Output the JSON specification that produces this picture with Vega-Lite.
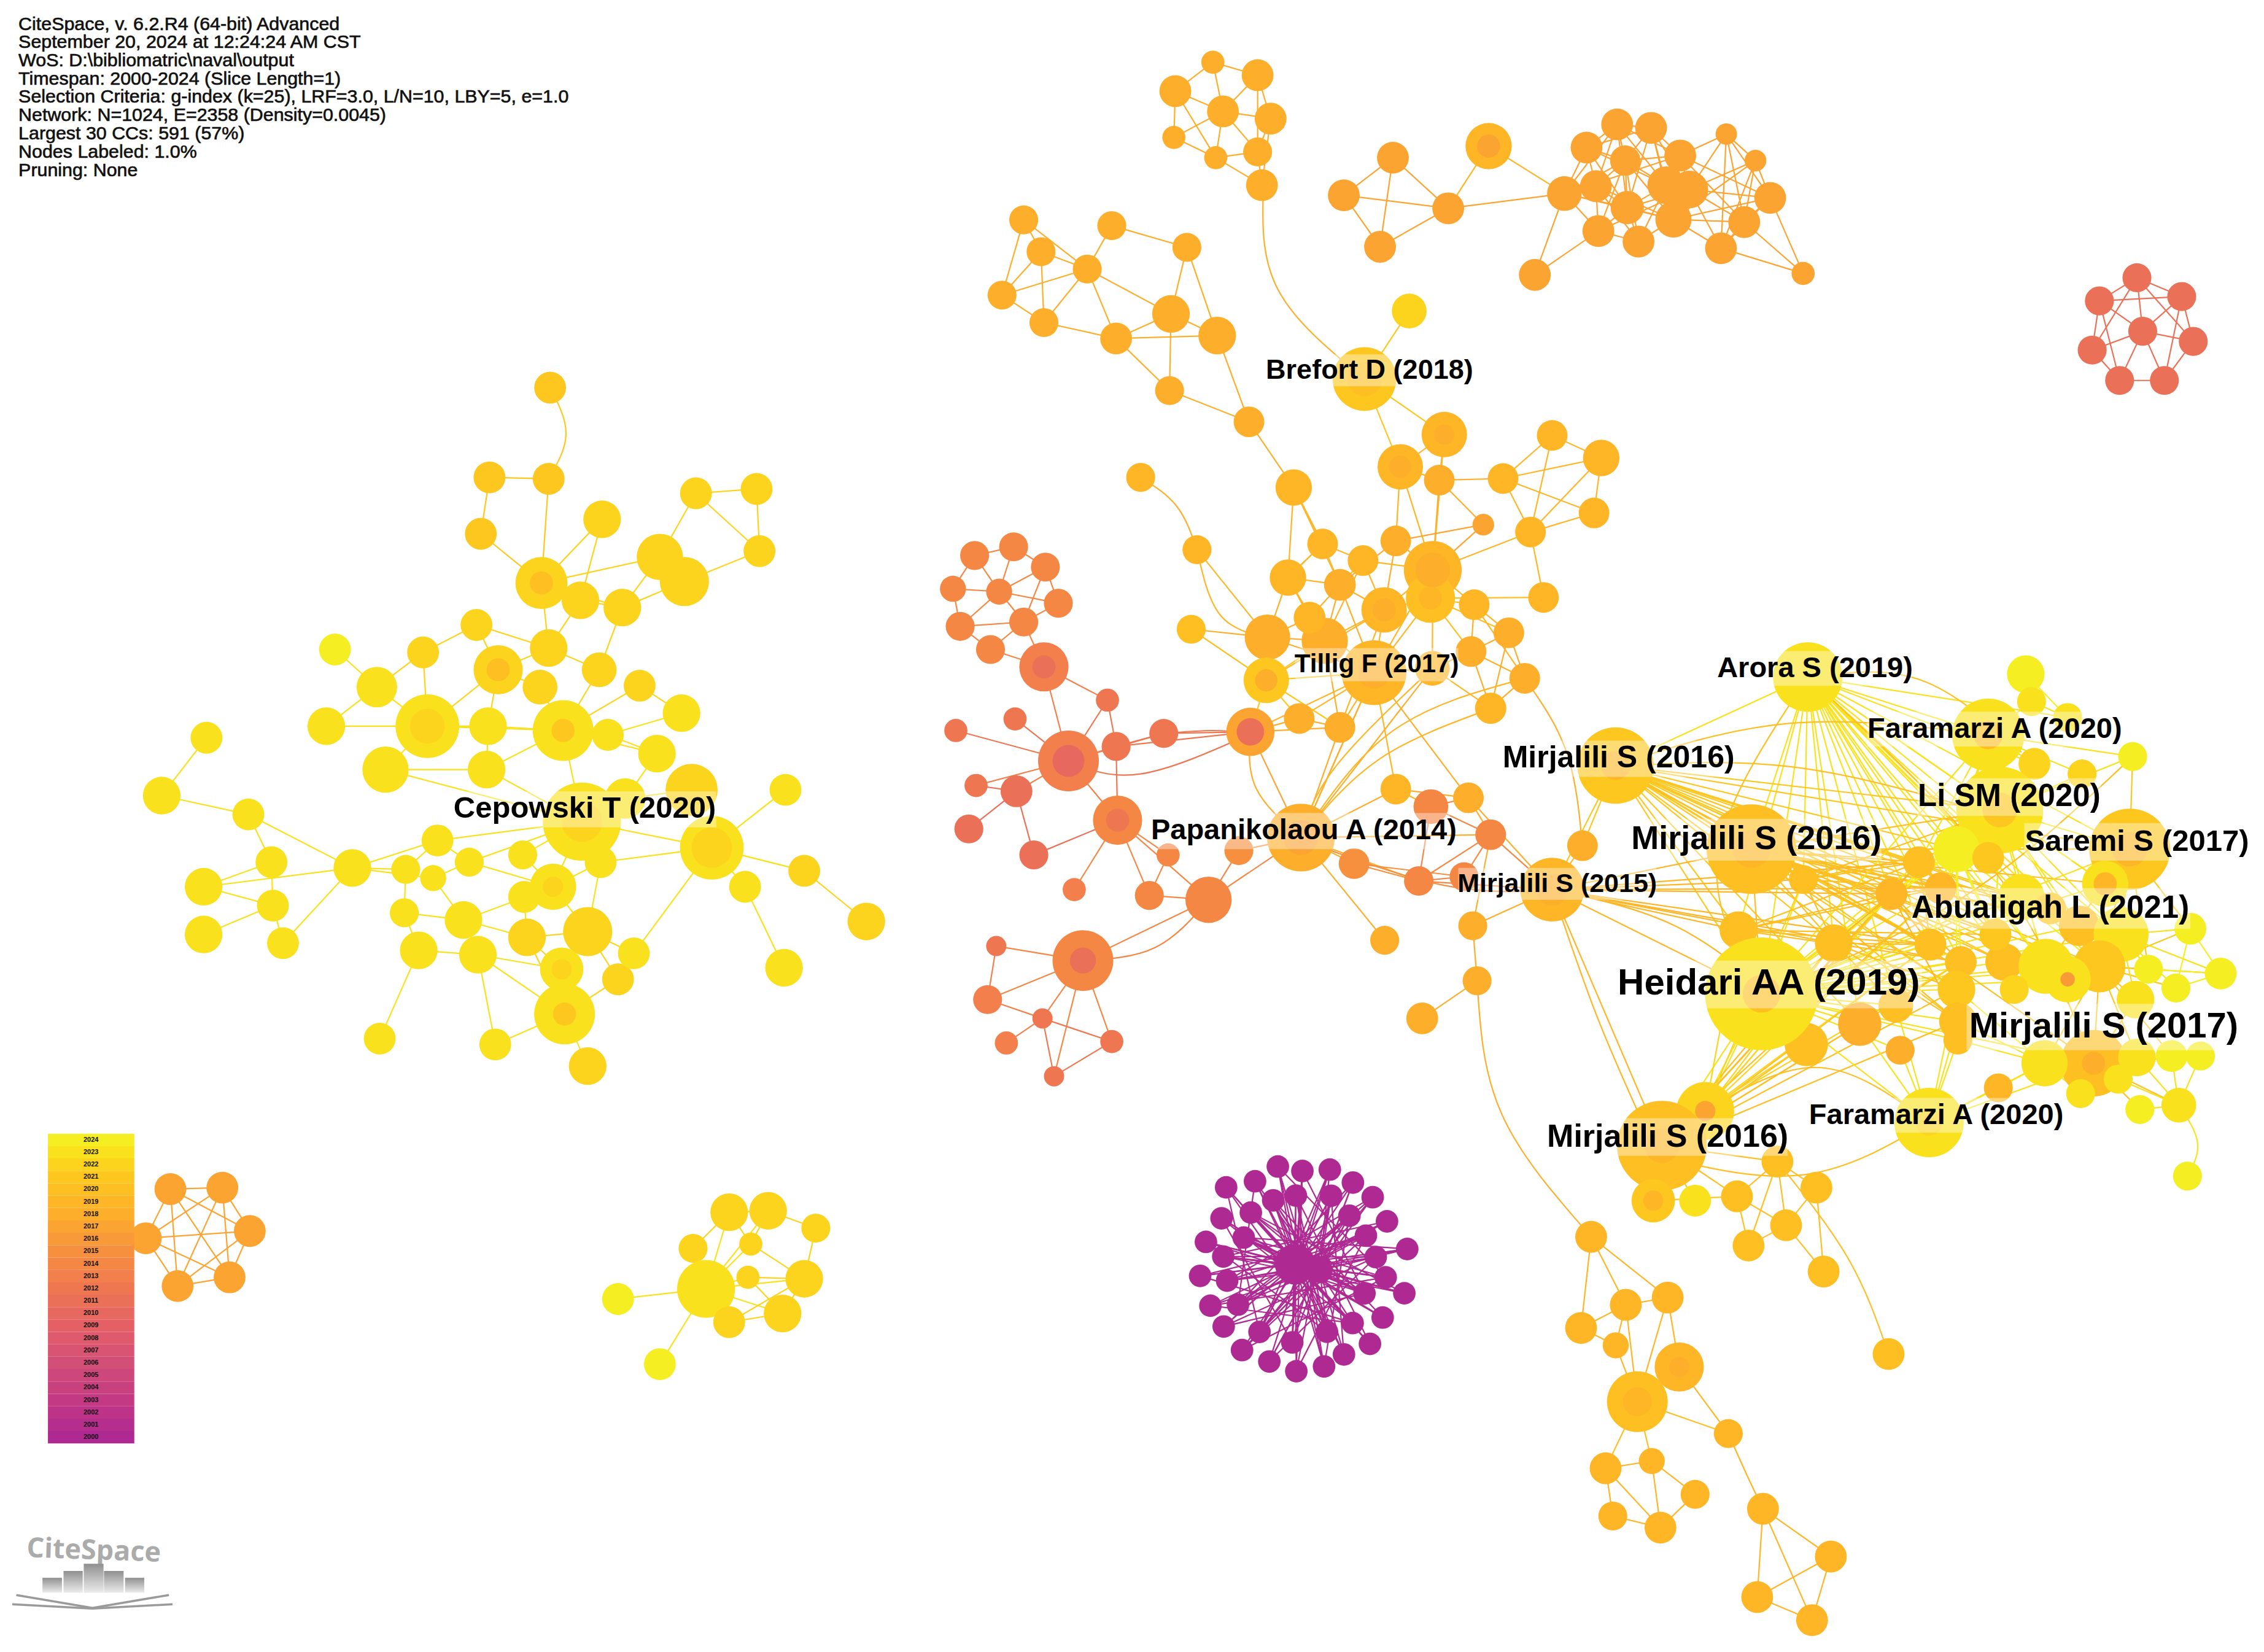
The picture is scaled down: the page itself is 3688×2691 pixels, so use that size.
{
"$schema":"https://vega.github.io/schema/vega-lite/v6.json",
"width":3688,"height":2691,"padding":0,
"autosize":{"type":"none"},
"background":"white",
"config":{"view":{"stroke":null}},
"resolve":{"scale":{"size":"independent"}},
"datasets":{
"nodes":[
{"id":"g1","x":101,"y":856,"r":11,"year":2017},{"id":"g2","x":118,"y":822,"r":11,"year":2017},{"id":"g3","x":154,"y":821,"r":11,"year":2017},{"id":"g4","x":173,"y":851,"r":11,"year":2017},{"id":"g5","x":159,"y":883,"r":11,"year":2017},{"id":"g6","x":123,"y":889,"r":11,"year":2017},
{"id":"h1","x":505,"y":838,"r":13,"year":2022},{"id":"h2","x":532,"y":837,"r":13,"year":2022},{"id":"h3","x":565,"y":849,"r":10,"year":2022},{"id":"h4","x":480,"y":863,"r":10,"year":2022},{"id":"h5","x":520,"y":860,"r":8,"year":2022},{"id":"h6","x":489,"y":891,"r":20,"year":2023},{"id":"h7","x":557,"y":884,"r":13,"year":2022},{"id":"h8","x":518,"y":883,"r":8,"year":2022},{"id":"h9","x":428,"y":898,"r":11,"year":2024},{"id":"h10","x":542,"y":908,"r":13,"year":2022},{"id":"h11","x":505,"y":914,"r":11,"year":2022},{"id":"h12","x":457,"y":943,"r":11,"year":2024},
{"id":"t1","x":1480,"y":192,"r":10,"year":2011},{"id":"t2","x":1454,"y":208,"r":10,"year":2011},{"id":"t3","x":1511,"y":205,"r":10,"year":2011},{"id":"t4","x":1484,"y":229,"r":10,"year":2011},{"id":"t5","x":1449,"y":242,"r":10,"year":2011},{"id":"t6","x":1519,"y":236,"r":10,"year":2011},{"id":"t7","x":1468,"y":263,"r":10,"year":2011},{"id":"t8","x":1499,"y":263,"r":10,"year":2011},
{"id":"a1","x":381,"y":268,"r":11,"year":2021},{"id":"a2","x":339,"y":330,"r":11,"year":2021},{"id":"a3","x":380,"y":331,"r":11,"year":2021},{"id":"a4","x":333,"y":369,"r":11,"year":2021},{"id":"a5","x":417,"y":359,"r":13,"year":2022},{"id":"a6","x":482,"y":341,"r":11,"year":2022},{"id":"a7","x":524,"y":338,"r":11,"year":2022},{"id":"a8","x":526,"y":381,"r":11,"year":2022},{"id":"a9","x":457,"y":385,"r":16,"year":2022},{"id":"a10","x":474,"y":402,"r":17,"year":2022},{"id":"a11","x":375,"y":403,"r":18,"year":2022,"cr":8,"cy":2020},{"id":"a12","x":402,"y":415,"r":13,"year":2022},{"id":"a13","x":431,"y":420,"r":13,"year":2022},{"id":"a14","x":330,"y":432,"r":11,"year":2022},{"id":"a15","x":293,"y":451,"r":11,"year":2022},{"id":"a16","x":380,"y":448,"r":13,"year":2022},{"id":"a17","x":415,"y":463,"r":12,"year":2022},{"id":"a18","x":345,"y":463,"r":17,"year":2022,"cr":8,"cy":2020},{"id":"a19","x":261,"y":475,"r":14,"year":2023},{"id":"a20","x":232,"y":449,"r":11,"year":2024},{"id":"a21","x":374,"y":475,"r":12,"year":2022},{"id":"a22","x":443,"y":474,"r":11,"year":2022},{"id":"a23","x":472,"y":493,"r":13,"year":2023},{"id":"a24","x":226,"y":502,"r":13,"year":2023},{"id":"a25","x":296,"y":502,"r":22,"year":2023,"cr":12,"cy":2022},{"id":"a26","x":338,"y":502,"r":13,"year":2023},{"id":"a27","x":390,"y":505,"r":21,"year":2023,"cr":8,"cy":2021},{"id":"a28","x":421,"y":508,"r":11,"year":2023},{"id":"a29","x":267,"y":532,"r":16,"year":2023},{"id":"a30","x":337,"y":532,"r":13,"year":2023},{"id":"a31","x":455,"y":521,"r":13,"year":2023},{"id":"a32","x":433,"y":552,"r":14,"year":2023},{"id":"a33","x":479,"y":546,"r":18,"year":2022},{"id":"a34","x":544,"y":546,"r":11,"year":2023},{"id":"a35","x":403,"y":568,"r":27,"year":2023,"cr":14,"cy":2022},{"id":"a36","x":493,"y":586,"r":22,"year":2023,"cr":14,"cy":2022},{"id":"a37","x":112,"y":550,"r":13,"year":2023},{"id":"a38","x":143,"y":510,"r":11,"year":2023},{"id":"a39","x":172,"y":563,"r":11,"year":2023},{"id":"a40","x":188,"y":596,"r":11,"year":2023},{"id":"a41","x":141,"y":613,"r":13,"year":2023},{"id":"a42","x":189,"y":626,"r":11,"year":2023},{"id":"a43","x":141,"y":646,"r":13,"year":2023},{"id":"a44","x":196,"y":652,"r":11,"year":2023},{"id":"a45","x":244,"y":600,"r":13,"year":2023},{"id":"a46","x":303,"y":581,"r":11,"year":2023},{"id":"a47","x":325,"y":596,"r":10,"year":2023},{"id":"a48","x":281,"y":601,"r":10,"year":2023},{"id":"a49","x":362,"y":591,"r":10,"year":2023},{"id":"a50","x":280,"y":631,"r":10,"year":2023},{"id":"a51","x":300,"y":607,"r":9,"year":2023},{"id":"a52","x":321,"y":636,"r":13,"year":2023},{"id":"a53","x":363,"y":620,"r":11,"year":2023},{"id":"a54","x":383,"y":613,"r":16,"year":2023,"cr":7,"cy":2022},{"id":"a55","x":416,"y":596,"r":11,"year":2023},{"id":"a56","x":290,"y":657,"r":13,"year":2023},{"id":"a57","x":331,"y":660,"r":13,"year":2023},{"id":"a58","x":365,"y":648,"r":13,"year":2022},{"id":"a59","x":407,"y":644,"r":17,"year":2022},{"id":"a60","x":389,"y":670,"r":15,"year":2023,"cr":7,"cy":2022},{"id":"a61","x":428,"y":677,"r":11,"year":2022},{"id":"a62","x":439,"y":659,"r":11,"year":2023},{"id":"a63","x":391,"y":701,"r":21,"year":2023,"cr":8,"cy":2021},{"id":"a64","x":407,"y":737,"r":13,"year":2022},{"id":"a65","x":343,"y":722,"r":11,"year":2023},{"id":"a66","x":263,"y":718,"r":11,"year":2023},{"id":"a67","x":557,"y":602,"r":11,"year":2022},{"id":"a68","x":516,"y":613,"r":11,"year":2023},{"id":"a69","x":600,"y":637,"r":13,"year":2022},{"id":"a70","x":543,"y":669,"r":13,"year":2023},
{"id":"b1","x":840,"y":43,"r":8,"year":2018},{"id":"b2","x":871,"y":52,"r":11,"year":2018},{"id":"b3","x":814,"y":63,"r":11,"year":2018},{"id":"b4","x":847,"y":77,"r":11,"year":2018},{"id":"b5","x":880,"y":82,"r":11,"year":2018},{"id":"b6","x":813,"y":95,"r":8,"year":2018},{"id":"b7","x":842,"y":109,"r":8,"year":2018},{"id":"b8","x":871,"y":105,"r":10,"year":2018},{"id":"b9","x":874,"y":128,"r":11,"year":2018},
{"id":"c1","x":1031,"y":101,"r":16,"year":2019,"cr":8,"cy":2017},{"id":"c2","x":964.7,"y":109,"r":11,"year":2017},{"id":"c3","x":930.7,"y":135,"r":11,"year":2017},{"id":"c4","x":1003,"y":144,"r":11,"year":2017},{"id":"c5","x":955.8,"y":170.6,"r":11,"year":2017},{"id":"c6","x":1120,"y":86,"r":11,"year":2017},{"id":"c7","x":1143.5,"y":88.4,"r":11,"year":2017},{"id":"c8","x":1098.8,"y":102,"r":11,"year":2017},{"id":"c9","x":1195.6,"y":92.7,"r":7.4,"year":2017},{"id":"c10","x":1125.6,"y":111,"r":10.5,"year":2017},{"id":"c12","x":1163.7,"y":107.5,"r":11,"year":2017},{"id":"c18","x":1215.8,"y":111,"r":7.5,"year":2017},{"id":"c13","x":1083.5,"y":133.8,"r":12,"year":2017},{"id":"c14","x":1105.3,"y":128.7,"r":11,"year":2017},{"id":"c16","x":1154,"y":128,"r":13,"year":2017},{"id":"c17","x":1170,"y":131,"r":13,"year":2017},{"id":"c15","x":1127,"y":143.5,"r":11.5,"year":2017},{"id":"c19","x":1226,"y":136.8,"r":11,"year":2017},{"id":"c20","x":1159,"y":151.7,"r":12.5,"year":2017},{"id":"c26","x":1208,"y":153.5,"r":11,"year":2017},{"id":"c22","x":1107,"y":159.7,"r":11,"year":2017},{"id":"c23","x":1134.8,"y":167,"r":11,"year":2017},{"id":"c25","x":1191.9,"y":171.6,"r":11,"year":2017},{"id":"c24","x":1063,"y":190,"r":11,"year":2017},{"id":"c27","x":1248.8,"y":189,"r":8,"year":2017},
{"id":"d1","x":709,"y":152,"r":10,"year":2018},{"id":"d2","x":770,"y":156,"r":10,"year":2018},{"id":"d3","x":721,"y":174,"r":10,"year":2018},{"id":"d4","x":753,"y":186,"r":10,"year":2018},{"id":"d5","x":822,"y":171,"r":10,"year":2018},{"id":"d6","x":694,"y":204,"r":10,"year":2018},{"id":"d7","x":723,"y":223,"r":10,"year":2018},{"id":"d8","x":811,"y":217,"r":13,"year":2018},{"id":"d9","x":773,"y":234,"r":11,"year":2018},{"id":"d10","x":843,"y":232,"r":13,"year":2018},{"id":"d11","x":810,"y":270,"r":10,"year":2018},{"id":"d12","x":865,"y":291.6,"r":10.6,"year":2018},{"id":"d13","x":976,"y":215,"r":12,"year":2022},{"id":"d14","x":945,"y":262,"r":22,"year":2021,"cr":12,"cy":2020},
{"id":"e1","x":1000.3,"y":300.4,"r":15.7,"year":2019,"cr":7,"cy":2018},{"id":"e2","x":969.8,"y":322.7,"r":15.7,"year":2019,"cr":7.7,"cy":2018},{"id":"e3","x":996.8,"y":331.9,"r":10.6,"year":2018},{"id":"e4","x":896,"y":337,"r":12.6,"year":2019},{"id":"e5","x":790,"y":330,"r":10,"year":2019},{"id":"e6","x":1041,"y":330.8,"r":10.6,"year":2019},{"id":"e7","x":1075,"y":301,"r":10.6,"year":2019},{"id":"e8","x":1109,"y":316.6,"r":12.6,"year":2019},{"id":"e9","x":1104,"y":354.6,"r":10.6,"year":2019},{"id":"e10","x":1027.3,"y":362.7,"r":7.5,"year":2017},{"id":"e12","x":916,"y":376,"r":10.6,"year":2019},{"id":"e13","x":966.7,"y":373.9,"r":10.6,"year":2018},{"id":"e14","x":1060,"y":367.8,"r":10.6,"year":2019},{"id":"e15","x":829,"y":380,"r":10,"year":2019},{"id":"e16","x":892,"y":399.3,"r":12.6,"year":2019},{"id":"e17","x":944,"y":387.5,"r":10.6,"year":2019},{"id":"e18","x":992.3,"y":394,"r":20,"year":2019,"cr":12,"cy":2018},{"id":"e19","x":928,"y":404.3,"r":11,"year":2018},{"id":"e21","x":958.6,"y":421.6,"r":15.7,"year":2019,"cr":8,"cy":2018},{"id":"e20","x":990.7,"y":413.5,"r":17,"year":2020,"cr":8,"cy":2019},{"id":"e22","x":1021,"y":418,"r":10.6,"year":2019},{"id":"e23","x":1069,"y":413,"r":10.6,"year":2019},{"id":"e24","x":877.8,"y":440.5,"r":15.7,"year":2018},{"id":"e25","x":825,"y":435,"r":10,"year":2020},{"id":"e26","x":1045,"y":437.4,"r":10.6,"year":2018},{"id":"e27","x":1018.8,"y":450.4,"r":10.6,"year":2018},{"id":"e28","x":1056,"y":468.9,"r":10.6,"year":2018},{"id":"e48","x":917.5,"y":443,"r":16,"year":2018},{"id":"e31","x":907,"y":427,"r":11,"year":2019},{"id":"e29","x":877,"y":470.3,"r":15.7,"year":2021,"cr":7.7,"cy":2018},{"id":"e30","x":951.6,"y":465,"r":22.4,"year":2019,"cr":11,"cy":2018},{"id":"e32","x":899.8,"y":496.7,"r":10.6,"year":2018},{"id":"e33","x":928,"y":502.8,"r":10.6,"year":2018},{"id":"e34","x":866,"y":505.9,"r":16.7,"year":2017,"cr":9.5,"cy":2011},{"id":"e35","x":1032.4,"y":489.6,"r":10.8,"year":2019},{"id":"e36","x":992,"y":462,"r":12,"year":2019},{"id":"e37","x":901,"y":579,"r":23.4,"year":2018,"cr":12,"cy":2017},{"id":"e38","x":966.7,"y":545.5,"r":10.6,"year":2019},{"id":"e39","x":1017,"y":551.5,"r":10.6,"year":2018},{"id":"e40","x":991,"y":557.6,"r":12,"year":2014},{"id":"e41","x":1032.4,"y":577,"r":10.6,"year":2014},{"id":"e42","x":1020,"y":640,"r":10,"year":2018},{"id":"e43","x":959,"y":650,"r":10,"year":2018},{"id":"e44","x":1023,"y":678,"r":10,"year":2018},{"id":"e45","x":985,"y":704,"r":11,"year":2018},{"id":"e46","x":937.8,"y":597,"r":10.6,"year":2015},{"id":"e47","x":982.6,"y":609,"r":10.2,"year":2014},{"id":"e50","x":1014,"y":606,"r":10,"year":2014},
{"id":"f1","x":675,"y":384,"r":10,"year":2014},{"id":"f2","x":702,"y":378,"r":10,"year":2014},{"id":"f3","x":692,"y":409,"r":9,"year":2014},{"id":"f4","x":724,"y":392,"r":10,"year":2014},{"id":"f5","x":660,"y":407,"r":9,"year":2014},{"id":"f6","x":733,"y":417,"r":10,"year":2014},{"id":"f7","x":665,"y":433,"r":10,"year":2014},{"id":"f8","x":709,"y":430,"r":10,"year":2014},{"id":"f9","x":686,"y":449,"r":10,"year":2014},{"id":"f10","x":723,"y":461,"r":17,"year":2013,"cr":8,"cy":2011},{"id":"f11","x":767,"y":484,"r":8,"year":2012},{"id":"f12","x":703,"y":497,"r":8,"year":2012},{"id":"f13","x":662,"y":505,"r":8,"year":2012},{"id":"f14","x":740,"y":526,"r":21,"year":2013,"cr":11,"cy":2010},{"id":"f15","x":773,"y":516,"r":10,"year":2012},{"id":"f16","x":806,"y":507,"r":10,"year":2012},{"id":"f17","x":704,"y":547,"r":11,"year":2011},{"id":"f18","x":676,"y":543,"r":8,"year":2012},{"id":"f19","x":671,"y":573,"r":10,"year":2011},{"id":"f20","x":716,"y":591,"r":10,"year":2011},{"id":"f21","x":774,"y":567,"r":17,"year":2014,"cr":8,"cy":2012},{"id":"f22","x":809,"y":591,"r":8,"year":2014},{"id":"f23","x":744,"y":615,"r":8,"year":2013},{"id":"f24","x":796,"y":619,"r":10,"year":2014},{"id":"f25","x":837,"y":622,"r":16,"year":2014},{"id":"f26","x":858,"y":588,"r":10,"year":2015},{"id":"f27","x":750,"y":664,"r":21,"year":2014,"cr":9,"cy":2011},{"id":"f28","x":690,"y":654,"r":7,"year":2012},{"id":"f29","x":684,"y":691,"r":10,"year":2013},{"id":"f30","x":697,"y":721,"r":8,"year":2013},{"id":"f31","x":722,"y":704,"r":7,"year":2012},{"id":"f32","x":770,"y":720,"r":8,"year":2012},{"id":"f33","x":730,"y":744,"r":7,"year":2012},
{"id":"mh","x":897,"y":874,"r":14,"year":2000},{"id":"mj","x":914,"y":878,"r":9,"year":2000},
{"id":"m1","x":885,"y":806.4,"r":7.8,"year":2000},{"id":"m2","x":902,"y":809.5,"r":7.8,"year":2000},{"id":"m3","x":921,"y":808.5,"r":7.8,"year":2000},{"id":"m4","x":937,"y":817.5,"r":7.8,"year":2000},{"id":"m5","x":950.7,"y":827.6,"r":7.8,"year":2000},{"id":"m6","x":960.6,"y":844.3,"r":7.8,"year":2000},{"id":"m7","x":974.6,"y":863.4,"r":7.8,"year":2000},{"id":"m8","x":972.6,"y":894,"r":7.8,"year":2000},{"id":"m9","x":957.6,"y":910.8,"r":7.8,"year":2000},{"id":"m10","x":948.8,"y":929,"r":7.8,"year":2000},{"id":"m11","x":930.8,"y":936.3,"r":7.8,"year":2000},{"id":"m12","x":917,"y":944.6,"r":7.8,"year":2000},{"id":"m13","x":897.8,"y":947.9,"r":7.8,"year":2000},{"id":"m14","x":879.1,"y":941.2,"r":7.8,"year":2000},{"id":"m15","x":860.2,"y":933.3,"r":7.8,"year":2000},{"id":"m16","x":847.5,"y":917,"r":7.8,"year":2000},{"id":"m17","x":838.3,"y":902.6,"r":7.8,"year":2000},{"id":"m18","x":831.2,"y":882,"r":7.8,"year":2000},{"id":"m19","x":835.2,"y":858.5,"r":7.8,"year":2000},{"id":"m20","x":846,"y":842.2,"r":7.8,"year":2000},{"id":"m21","x":849.2,"y":820.8,"r":7.8,"year":2000},{"id":"m22","x":869.2,"y":816.6,"r":7.8,"year":2000},
{"id":"n1","x":881.8,"y":829.8,"r":7.8,"year":2000},{"id":"n2","x":897.5,"y":826.5,"r":7.8,"year":2000},{"id":"n3","x":921.9,"y":826.6,"r":7.8,"year":2000},{"id":"n4","x":934.6,"y":840.4,"r":7.8,"year":2000},{"id":"n5","x":946,"y":854.2,"r":7.8,"year":2000},{"id":"n6","x":952.8,"y":869,"r":7.8,"year":2000},{"id":"n7","x":959.7,"y":883,"r":7.8,"year":2000},{"id":"n8","x":945,"y":894.1,"r":7.8,"year":2000},{"id":"n9","x":936.8,"y":914.6,"r":7.8,"year":2000},{"id":"n10","x":919,"y":920.6,"r":7.8,"year":2000},{"id":"n11","x":895,"y":928,"r":7.8,"year":2000},{"id":"n12","x":872.3,"y":920.7,"r":7.8,"year":2000},{"id":"n13","x":857.4,"y":901.9,"r":7.8,"year":2000},{"id":"n14","x":849.9,"y":885.3,"r":7.8,"year":2000},{"id":"n15","x":847.2,"y":868.6,"r":7.8,"year":2000},{"id":"n16","x":861.4,"y":855.5,"r":7.8,"year":2000},{"id":"n17","x":866.3,"y":838.2,"r":7.8,"year":2000},{"id":"n18","x":905,"y":912,"r":0.5,"year":2000},
{"id":"l1","x":1102,"y":855,"r":11,"year":2019},{"id":"l2","x":1095,"y":918,"r":11,"year":2019},{"id":"l3","x":1126,"y":902,"r":11,"year":2019},{"id":"l4","x":1155,"y":897,"r":11,"year":2019},{"id":"l5","x":1119,"y":930,"r":9,"year":2019},{"id":"l6","x":1163,"y":945,"r":17,"year":2019,"cr":7,"cy":2018},{"id":"l7","x":1134,"y":969,"r":21,"year":2020,"cr":10,"cy":2019},{"id":"l8","x":1197,"y":991,"r":10,"year":2019},{"id":"l9","x":1112,"y":1015,"r":11,"year":2019},{"id":"l10","x":1117,"y":1048,"r":10,"year":2019},{"id":"l11","x":1150,"y":1056,"r":11,"year":2019},{"id":"l12","x":1174,"y":1033,"r":10,"year":2019},{"id":"l13","x":1144,"y":1010,"r":9,"year":2019},{"id":"l14","x":1221,"y":1043,"r":11,"year":2019},{"id":"l15","x":1268,"y":1076,"r":11,"year":2019},{"id":"l16","x":1217,"y":1104,"r":11,"year":2019},{"id":"l17","x":1255,"y":1120,"r":11,"year":2019},
{"id":"r11","x":1403,"y":466,"r":13,"year":2024},{"id":"r12","x":1407,"y":485,"r":10,"year":2023},{"id":"r13","x":1432,"y":496,"r":10,"year":2023},{"id":"r14","x":1409,"y":528,"r":11,"year":2022},{"id":"r15","x":1477,"y":523,"r":10,"year":2024},{"id":"r16","x":1442,"y":535,"r":10,"year":2022},{"id":"r8","x":1377,"y":508,"r":25,"year":2023,"cr":10,"cy":2020},{"id":"r9","x":1385,"y":560,"r":30,"year":2023,"cr":12,"cy":2021},{"id":"r10","x":1475,"y":587,"r":28,"year":2021,"cr":12,"cy":2019},{"id":"r17","x":1355,"y":587,"r":16,"year":2024},{"id":"r18","x":1377,"y":593,"r":11,"year":2021},{"id":"r19","x":1329,"y":596,"r":11,"year":2020},{"id":"r20","x":1310,"y":618,"r":11,"year":2019},{"id":"r21","x":1344,"y":614,"r":11,"year":2019},{"id":"r22","x":1249,"y":608,"r":10,"year":2020},{"id":"r23","x":1096,"y":584.6,"r":10.6,"year":2018},{"id":"r24","x":1204,"y":643,"r":13,"year":2020},{"id":"r25","x":1270,"y":652,"r":13,"year":2020},{"id":"r26","x":1288,"y":708,"r":15,"year":2018},{"id":"r27","x":1251,"y":722,"r":15,"year":2020},{"id":"r28","x":1316,"y":726,"r":10,"year":2018},{"id":"r29","x":1313,"y":695,"r":12,"year":2020},{"id":"r30","x":1337,"y":653,"r":11,"year":2020},{"id":"r31","x":1358,"y":665,"r":11,"year":2020},{"id":"r32","x":1388,"y":665,"r":13,"year":2020},{"id":"r33","x":1382,"y":646,"r":11,"year":2021},{"id":"r69","x":1400,"y":620,"r":16,"year":2023},{"id":"r70","x":1440,"y":640,"r":14,"year":2020},{"id":"r71","x":1420,"y":628,"r":11,"year":2021},{"id":"r37","x":1469,"y":646,"r":19,"year":2023},{"id":"r34","x":1417,"y":668,"r":19,"year":2023},{"id":"r36","x":1454,"y":668,"r":18,"year":2021},{"id":"r35","x":1432,"y":677,"r":16,"year":2023,"cr":5,"cy":2016},{"id":"r68","x":1458,"y":611,"r":16,"year":2023,"cr":8,"cy":2019},{"id":"r38","x":1517,"y":642,"r":11,"year":2024},{"id":"r39","x":1538,"y":673,"r":11,"year":2024},{"id":"r40","x":1507,"y":683,"r":10,"year":2024},{"id":"r41","x":1488,"y":670,"r":10,"year":2024},{"id":"r42","x":1479,"y":691,"r":13,"year":2023},{"id":"r43","x":1395,"y":684,"r":10,"year":2022},{"id":"r44","x":1355,"y":684,"r":13,"year":2021},{"id":"r45","x":1356,"y":706,"r":13,"year":2020},{"id":"r46","x":1356,"y":719,"r":10,"year":2020},{"id":"r48","x":1450,"y":735,"r":23,"year":2020,"cr":8,"cy":2018},{"id":"r47","x":1416,"y":735,"r":16,"year":2023},{"id":"r49","x":1480,"y":731,"r":13,"year":2023},{"id":"r50","x":1504,"y":730,"r":11,"year":2024},{"id":"r51","x":1524,"y":730,"r":10,"year":2024},{"id":"r52","x":1467,"y":746,"r":10,"year":2023},{"id":"r53","x":1441,"y":756,"r":10,"year":2023},{"id":"r54","x":1482,"y":767,"r":10,"year":2024},{"id":"r55","x":1509,"y":764,"r":12,"year":2023},{"id":"r56","x":1515,"y":813,"r":10,"year":2024},{"id":"r57","x":1384,"y":752,"r":10,"year":2019},{"id":"r60","x":1174,"y":830,"r":11,"year":2023},{"id":"r61","x":1231,"y":803,"r":11,"year":2020},{"id":"r62","x":1203,"y":827,"r":11,"year":2020},{"id":"r63","x":1258,"y":821,"r":11,"year":2020},{"id":"r64","x":1237,"y":847,"r":11,"year":2020},{"id":"r65","x":1211,"y":861,"r":11,"year":2020},{"id":"r66","x":1263,"y":879,"r":11,"year":2020},{"id":"r67","x":1308,"y":936,"r":11,"year":2020},
{"id":"r4","x":1075,"y":615,"r":22,"year":2019,"cr":11,"cy":2018},{"id":"r2","x":1118.9,"y":529.2,"r":26.4,"year":2021,"cr":10,"cy":2019},{"id":"r3","x":1213,"y":587,"r":31,"year":2020,"cr":13,"cy":2019},{"id":"r1","x":1252,"y":468,"r":24,"year":2023},{"id":"r58","x":1181,"y":768,"r":20,"year":2022,"cr":7,"cy":2017},{"id":"r6","x":1151,"y":792,"r":31,"year":2020,"cr":12,"cy":2019},{"id":"r59","x":1145,"y":830,"r":15,"year":2021,"cr":7,"cy":2019},{"id":"r7","x":1336,"y":776,"r":24,"year":2023,"cr":9,"cy":2022},{"id":"r5","x":1220,"y":687,"r":39,"year":2023,"cr":13,"cy":2020}
],
"edges":[
{"s":"a2","t":["a3","a4"]},{"s":"a3","t":["a11"]},{"s":"a4","t":["a11"]},{"s":"a5","t":["a11","a12"]},{"s":"a6","t":["a9","a7","a8"]},{"s":"a7","t":["a8"]},{"s":"a9","t":["a10","a11","a13"]},{"s":"a10","t":["a13","a8"]},{"s":"a11","t":["a12","a13","a16"]},{"s":"a12","t":["a13","a16"]},{"s":"a13","t":["a17"]},{"s":"a14","t":["a15","a16","a18"]},{"s":"a15","t":["a19","a25"]},{"s":"a16","t":["a17","a18"]},{"s":"a17","t":["a27"]},{"s":"a18","t":["a21","a25","a26"]},{"s":"a19","t":["a20","a25","a24"]},{"s":"a21","t":["a27"]},{"s":"a22","t":["a27","a23"]},{"s":"a23","t":["a28"]},{"s":"a24","t":["a25"]},{"s":"a25","t":["a26","a29","a27"]},{"s":"a26","t":["a27","a30"]},{"s":"a27","t":["a28","a30","a31","a35"]},{"s":"a29","t":["a30","a35"]},{"s":"a28","t":["a31"]},{"s":"a31","t":["a32"]},{"s":"a32","t":["a33","a35"]},{"s":"a33","t":["a36"]},{"s":"a30","t":["a35"]},{"s":"a35","t":["a46","a47","a49","a36","a54"]},{"s":"a36","t":["a34","a67","a68","a55","a62"]},{"s":"a67","t":["a69"]},{"s":"a68","t":["a70"]},{"s":"a37","t":["a38","a39"]},{"s":"a39","t":["a40","a45"]},{"s":"a40","t":["a41","a42"]},{"s":"a41","t":["a42","a45"]},{"s":"a42","t":["a43","a44"]},{"s":"a44","t":["a45"]},{"s":"a45","t":["a46","a48","a51"]},{"s":"a48","t":["a46","a50"]},{"s":"a46","t":["a47"]},{"s":"a47","t":["a51","a54"]},{"s":"a51","t":["a52"]},{"s":"a50","t":["a52","a56"]},{"s":"a52","t":["a54","a57","a58"]},{"s":"a56","t":["a57","a66"]},{"s":"a49","t":["a54"]},{"s":"a53","t":["a54","a58"]},{"s":"a54","t":["a55","a59"]},{"s":"a55","t":["a59"]},{"s":"a58","t":["a59","a60","a63"]},{"s":"a59","t":["a60","a61","a62"]},{"s":"a60","t":["a63","a57"]},{"s":"a61","t":["a62","a63"]},{"s":"a63","t":["a64","a65","a57"]},{"s":"a57","t":["a65"]},
{"s":"b1","t":["b4","b2","b3"]},{"s":"b2","t":["b4","b5","b8"]},{"s":"b3","t":["b4","b6","b7"]},{"s":"b4","t":["b5","b6","b7","b8"]},{"s":"b5","t":["b8","b9"]},{"s":"b6","t":["b7"]},{"s":"b7","t":["b8","b9"]},{"s":"b8","t":["b9"]},
{"s":"c1","t":["c4","c13"]},{"s":"c2","t":["c3","c4","c5"]},{"s":"c3","t":["c4","c5"]},{"s":"c4","t":["c5","c13"]},{"s":"c13","t":["c8","c6","c14","c22","c24","c15","c10","c12","c20"]},{"s":"c24","t":["c22"]},{"s":"c8","t":["c6","c7","c10","c14","c15","c16"]},{"s":"c6","t":["c7","c10","c14","c16","c12","c15"]},{"s":"c7","t":["c10","c12","c16","c17","c15","c20"]},{"s":"c10","t":["c14","c15","c16","c22","c12","c20","c23"]},{"s":"c14","t":["c15","c22","c23","c20"]},{"s":"c15","t":["c16","c22","c23","c20","c17"]},{"s":"c16","t":["c17","c20","c23","c12"]},{"s":"c12","t":["c17","c20","c9","c19","c26"]},{"s":"c17","t":["c20","c9","c18","c19","c26","c25","c22"]},{"s":"c20","t":["c23","c25","c26","c19","c18"]},{"s":"c22","t":["c23"]},{"s":"c9","t":["c18","c19","c26","c25"]},{"s":"c18","t":["c19","c26","c25"]},{"s":"c19","t":["c26","c27","c25"]},{"s":"c26","t":["c25","c27"]},{"s":"c25","t":["c27"]},
{"s":"d1","t":["d3","d6","d4"]},{"s":"d3","t":["d4","d6","d7"]},{"s":"d6","t":["d7","d4"]},{"s":"d2","t":["d4","d5"]},{"s":"d4","t":["d7","d9","d8"]},{"s":"d7","t":["d9"]},{"s":"d5","t":["d8","d10"]},{"s":"d8","t":["d9","d10","d11"]},{"s":"d9","t":["d11","d10"]},{"s":"d11","t":["d12"]},{"s":"d10","t":["d12"]},{"s":"d12","t":["e4"]},{"s":"d14","t":["e1","e2","d13"]},
{"s":"e1","t":["e2","e3","e18"]},{"s":"e2","t":["e3","e18","e13"]},{"s":"e3","t":["e6","e18","e10"]},{"s":"e6","t":["e7","e8","e9","e14"]},{"s":"e7","t":["e8","e14"]},{"s":"e8","t":["e9","e14"]},{"s":"e14","t":["e18","e23","e9"]},{"s":"e10","t":["e18","e13"]},{"s":"e13","t":["e18","e19","e21"]},{"s":"e12","t":["e4","e17","e16","e19"]},{"s":"e4","t":["e16","e12","e19"]},{"s":"e15","t":["e24"]},{"s":"e16","t":["e19","e31","e48","e12"]},{"s":"e17","t":["e18","e19","e21","e48"]},{"s":"e18","t":["e20","e21","e22","e30","e36"]},{"s":"e20","t":["e21","e22","e26","e27","e23"]},{"s":"e21","t":["e30","e48","e33","e29"]},{"s":"e19","t":["e21","e31","e48","e30"]},{"s":"e24","t":["e16","e31","e29","e48","e30","e25"]},{"s":"e25","t":["e29"]},{"s":"e29","t":["e34","e30","e32","e33","e48"]},{"s":"e30","t":["e31","e33","e36","e32","e37","e34","e20"]},{"s":"e27","t":["e22","e36","e35","e28","e26"]},{"s":"e22","t":["e26","e28"]},{"s":"e26","t":["e28","e35"]},{"s":"e28","t":["e35"]},{"s":"e35","t":["e36"]},{"s":"e32","t":["e33","e34"]},{"s":"e33","t":["e34","e48"]},{"s":"e34","t":["e37"]},{"s":"e37","t":["e46","e38","e47","e41","e43","e30","e33","e36"]},{"s":"e46","t":["e47","e50"]},{"s":"e47","t":["e41","e40","e50"]},{"s":"e40","t":["e41","e39"]},{"s":"e39","t":["e41","e38","e30"]},{"s":"e38","t":["e30","e40"]},{"s":"e44","t":["e45","e42"]},{"s":"e42","t":["e41","r4"]},{"s":"e41","t":["r4"]},{"s":"e47","t":["r4"]},{"s":"e50","t":["e41"]},{"s":"e39","t":["r4"]},
{"s":"f1","t":["f2","f3","f5"]},{"s":"f2","t":["f3","f4"]},{"s":"f3","t":["f4","f5","f6","f7","f8"]},{"s":"f4","t":["f6","f8"]},{"s":"f5","t":["f7"]},{"s":"f6","t":["f8"]},{"s":"f7","t":["f8","f9"]},{"s":"f8","t":["f9","f10"]},{"s":"f9","t":["f10"]},{"s":"f10","t":["f14","f11"]},{"s":"f11","t":["f14","f15"]},{"s":"f12","t":["f14"]},{"s":"f13","t":["f14"]},{"s":"f14","t":["f15","f16","f17","f18","f21"]},{"s":"f15","t":["f16","f21"]},{"s":"f17","t":["f18","f19","f20"]},{"s":"f20","t":["f21"]},{"s":"f21","t":["f22","f24","f25","f23"]},{"s":"f22","t":["f24"]},{"s":"f24","t":["f25"]},{"s":"f25","t":["f26","f27","e37"]},{"s":"f26","t":["e37"]},{"s":"f27","t":["f28","f29","f31","f32","f33"]},{"s":"f29","t":["f31","f28"]},{"s":"f30","t":["f31"]},{"s":"f31","t":["f33","f32"]},{"s":"f32","t":["f33"]},{"s":"f16","t":["e34"]},{"s":"f15","t":["e34"]},
{"s":"g1","t":["g2","g3","g4","g5","g6"]},{"s":"g2","t":["g3","g4","g5","g6"]},{"s":"g3","t":["g4","g5","g6"]},{"s":"g4","t":["g5","g6"]},{"s":"g5","t":["g6"]},
{"s":"h6","t":["h1","h2","h4","h5","h7","h8","h9","h10","h11","h12"]},{"s":"h1","t":["h2","h4","h5"]},{"s":"h2","t":["h3","h5"]},{"s":"h3","t":["h7"]},{"s":"h5","t":["h7"]},{"s":"h7","t":["h8","h10","h11"]},{"s":"h8","t":["h10"]},{"s":"h10","t":["h11"]},
{"s":"t1","t":["t2","t3","t4","t5","t6"]},{"s":"t2","t":["t3","t4","t5","t7"]},{"s":"t3","t":["t4","t6","t8"]},{"s":"t4","t":["t5","t6","t7","t8"]},{"s":"t5","t":["t7"]},{"s":"t6","t":["t8"]},{"s":"t7","t":["t8"]},
{"s":"m1","t":["mh","m12","n10","n7"]},{"s":"m2","t":["mh","m13","n11","n8"]},{"s":"m3","t":["mh","m14","n12","mj"]},{"s":"m4","t":["mj","m15","n13","n11"]},{"s":"m5","t":["mj","m16","n14","n12"]},{"s":"m6","t":["mh","m17","n15","n13"]},{"s":"m7","t":["mj","m18","n16","n14"]},{"s":"m8","t":["mj","m19","n17","n15"]},{"s":"m9","t":["mh","m20","n1","n16"]},{"s":"m10","t":["mh","m21","n2","n17"]},{"s":"m11","t":["mj","m22","n3","n1"]},{"s":"m12","t":["mh","n4","n2"]},{"s":"m13","t":["mh","n5","n3"]},{"s":"m14","t":["mj","n6","n4"]},{"s":"m15","t":["mj","n7","n5"]},{"s":"m16","t":["mh","n8","n6"]},{"s":"m17","t":["mj","n9","n7"]},{"s":"m18","t":["mh","n9","n5"]},{"s":"m19","t":["mj","n10","n8"]},{"s":"m20","t":["mh","n11","n9"]},{"s":"m21","t":["mh","n12","n10"]},{"s":"m22","t":["mj","n13","n10"]},
{"s":"n1","t":["mh","n10","mj"]},{"s":"n2","t":["mh","n11"]},{"s":"n3","t":["mj","n12","mh"]},{"s":"n4","t":["mj","n13","mh"]},{"s":"n5","t":["mh","n14"]},{"s":"n6","t":["mj","n15"]},{"s":"n7","t":["mh","n16"]},{"s":"n8","t":["mj","n17","mh"]},{"s":"n9","t":["mh","n1"]},{"s":"n10","t":["mj","n2"]},{"s":"n11","t":["mh","n3"]},{"s":"n12","t":["mj","n4","mh"]},{"s":"n13","t":["mh","n5","mj"]},{"s":"n14","t":["mj","n6"]},{"s":"n15","t":["mh","n7"]},{"s":"n16","t":["mj","n8","mh"]},{"s":"n17","t":["mh","n9","mj"]},
{"s":"l1","t":["l3","l2","l4"]},{"s":"l2","t":["l3","l5"]},{"s":"l3","t":["l4","l5","l7"]},{"s":"l4","t":["l6","l7"]},{"s":"l5","t":["l7"]},{"s":"l6","t":["l7","l8"]},{"s":"l7","t":["l8","l9","l13"]},{"s":"l9","t":["l10","l13","l11"]},{"s":"l10","t":["l11"]},{"s":"l11","t":["l12","l13"]},{"s":"l12","t":["l13"]},{"s":"l14","t":["l15","l16","l17"]},{"s":"l15","t":["l16","l17"]},{"s":"l16","t":["l17"]},
{"s":"r1","t":["r8","r9","r17","r19","r20","r21","r25","r30","r31","r34","r36","r37","r14","r13","r69","r5","r3","r2","r22","r24","r32","r33","r10","r68","r70","r71","r18","r26","r29"]},
{"s":"r2","t":["r3","r4","r5","r20","r19","r21","r22","r24","r25","r17","r9","r30","r31","r33","r36","r26","r23","r34","r32","r44","r45","r10","r69","r70","r71"]},
{"s":"r3","t":["r5","r20","r21","r19","r25","r30","r31","r32","r34","r36","r10","r68","r9","r17","r33","r45","r69","r70","r71","r37","r44"]},
{"s":"r4","t":["r3","r5","r23","r24","r25","r30","r20","r6","r31","r21","r19","r22"]},
{"s":"r5","t":["r20","r21","r17","r9","r19","r22","r25","r26","r27","r28","r29","r30","r31","r32","r33","r34","r36","r37","r10","r44","r45","r46","r6","r58","r59","r8","r68","r69","r70","r71","r48","r35"]},
{"s":"r6","t":["r58","r59","r60","r62","r61","r27","r20","r26","r19","r21","r25","r30","r31","r44","r45"]},{"s":"r58","t":["r27","r24","r22","r20","r25","r19","r21","r30","r31"]},
{"s":"r22","t":["r19","r21","r17","r9","r30","r25"]},{"s":"r24","t":["r20","r21","r19","r30","r31","r33"]},
{"s":"r7","t":["r26","r28","r29","r45","r46","r57","r47","r44","r48","r5"]},
{"s":"r8","t":["r14","r12","r9","r17","r19","r21","r15","r16"]},
{"s":"r9","t":["r14","r15","r16","r10","r17","r18","r21","r33","r34","r36","r37","r68","r69","r70"]},
{"s":"r10","t":["r15","r68","r37","r36","r38","r41","r34"]},
{"s":"r17","t":["r20","r25","r30","r33","r34","r44","r31","r32","r36"]},
{"s":"r36","t":["r38","r39","r40","r41","r42","r49","r50","r48","r47"]},
{"s":"r37","t":["r38","r41","r39","r40","r42"]},
{"s":"r48","t":["r49","r50","r51","r52","r53","r54","r55","r47","r42"]},
{"s":"r47","t":["r53","r44","r45","r46","r57"]},
{"s":"r55","t":["r50","r51","r54","r49","r52"]},
{"s":"r38","t":["r39","r40"]},{"s":"r39","t":["r40","r41"]},{"s":"r12","t":["r11","r13"]},{"s":"r11","t":["r13"]},
{"s":"r20","t":["r30","r25","r31","r45","r21","r19"]},{"s":"r19","t":["r30","r33","r21"]},{"s":"r25","t":["r30","r29","r44","r45"]},
{"s":"r61","t":["r62","r63","r64","r65"]},{"s":"r62","t":["r64","r65"]},{"s":"r63","t":["r64","r66"]},{"s":"r64","t":["r65","r66"]},{"s":"r59","t":["r62"]}
],
"arcs":[
{"arc":1,"o":1,"x":875,"y":128,"year":2018},{"arc":1,"o":2,"x":885,"y":200,"year":2018},{"arc":1,"o":3,"x":945,"y":262,"year":2018},
{"arc":2,"o":1,"x":1056,"y":469,"year":2018},{"arc":2,"o":2,"x":1085,"y":520,"year":2018},{"arc":2,"o":3,"x":1096,"y":585,"year":2018},
{"arc":3,"o":1,"x":1023,"y":678,"year":2018},{"arc":3,"o":2,"x":1040,"y":770,"year":2018},{"arc":3,"o":3,"x":1102,"y":855,"year":2018},
{"arc":4,"o":1,"x":1116,"y":530,"year":2020},{"arc":4,"o":2,"x":1240,"y":500,"year":2020},{"arc":4,"o":3,"x":1377,"y":508,"year":2020},
{"arc":5,"o":1,"x":1252,"y":468,"year":2020},{"arc":5,"o":2,"x":1330,"y":470,"year":2020},{"arc":5,"o":3,"x":1400,"y":520,"year":2020},
{"arc":6,"o":1,"x":1151,"y":800,"year":2020},{"arc":6,"o":2,"x":1250,"y":812,"year":2020},{"arc":6,"o":3,"x":1336,"y":776,"year":2020},
{"arc":7,"o":1,"x":1075,"y":615,"year":2019},{"arc":7,"o":2,"x":1105,"y":700,"year":2019},{"arc":7,"o":3,"x":1135,"y":770,"year":2019},
{"arc":9,"o":1,"x":1181,"y":768,"year":2020},{"arc":9,"o":2,"x":1260,"y":738,"year":2020},{"arc":9,"o":3,"x":1336,"y":776,"year":2020},
{"arc":10,"o":1,"x":790,"y":330,"year":2018},{"arc":10,"o":2,"x":815,"y":350,"year":2018},{"arc":10,"o":3,"x":829,"y":380,"year":2018},
{"arc":11,"o":1,"x":381,"y":268,"year":2021},{"arc":11,"o":2,"x":392,"y":300,"year":2021},{"arc":11,"o":3,"x":380,"y":331,"year":2021},
{"arc":13,"o":1,"x":1509,"y":764,"year":2023},{"arc":13,"o":2,"x":1522,"y":790,"year":2023},{"arc":13,"o":3,"x":1515,"y":813,"year":2023},
{"arc":14,"o":1,"x":1231,"y":803,"year":2020},{"arc":14,"o":2,"x":1280,"y":870,"year":2020},{"arc":14,"o":3,"x":1308,"y":936,"year":2020},
{"arc":15,"o":1,"x":1197,"y":991,"year":2019},{"arc":15,"o":2,"x":1210,"y":1020,"year":2019},{"arc":15,"o":3,"x":1221,"y":1043,"year":2019},
{"arc":16,"o":1,"x":806,"y":507,"year":2012},{"arc":16,"o":2,"x":840,"y":505,"year":2012},{"arc":16,"o":3,"x":867,"y":507,"year":2012},
{"arc":17,"o":1,"x":740,"y":526,"year":2012},{"arc":17,"o":2,"x":790,"y":535,"year":2012},{"arc":17,"o":3,"x":867,"y":507,"year":2012},
{"arc":18,"o":1,"x":750,"y":664,"year":2014},{"arc":18,"o":2,"x":800,"y":655,"year":2014},{"arc":18,"o":3,"x":837,"y":622,"year":2014},
{"arc":19,"o":1,"x":900,"y":580,"year":2015},{"arc":19,"o":2,"x":1000,"y":612,"year":2015},{"arc":19,"o":3,"x":1075,"y":615,"year":2015},
{"arc":20,"o":1,"x":1075,"y":615,"year":2019},{"arc":20,"o":2,"x":1160,"y":640,"year":2019},{"arc":20,"o":3,"x":1230,"y":690,"year":2019},
{"arc":21,"o":1,"x":1252,"y":468,"year":2020},{"arc":21,"o":2,"x":1190,"y":590,"year":2020},{"arc":21,"o":3,"x":1220,"y":687,"year":2020},
{"arc":22,"o":1,"x":1116,"y":530,"year":2020},{"arc":22,"o":2,"x":1280,"y":620,"year":2020},{"arc":22,"o":3,"x":1450,"y":735,"year":2020},
{"arc":23,"o":1,"x":1116,"y":530,"year":2020},{"arc":23,"o":2,"x":1240,"y":530,"year":2020},{"arc":23,"o":3,"x":1370,"y":560,"year":2020},
{"arc":24,"o":1,"x":1252,"y":468,"year":2020},{"arc":24,"o":2,"x":1380,"y":600,"year":2020},{"arc":24,"o":3,"x":1450,"y":735,"year":2020},
{"arc":25,"o":1,"x":1220,"y":687,"year":2020},{"arc":25,"o":2,"x":1360,"y":620,"year":2020},{"arc":25,"o":3,"x":1477,"y":523,"year":2020},
{"arc":26,"o":1,"x":901,"y":579,"year":2019},{"arc":26,"o":2,"x":965,"y":505,"year":2019},{"arc":26,"o":3,"x":1056,"y":469,"year":2019},
{"arc":27,"o":1,"x":901,"y":579,"year":2019},{"arc":27,"o":2,"x":955,"y":525,"year":2019},{"arc":27,"o":3,"x":1032,"y":490,"year":2019},
{"arc":28,"o":1,"x":901,"y":579,"year":2019},{"arc":28,"o":2,"x":925,"y":530,"year":2019},{"arc":28,"o":3,"x":992,"y":462,"year":2019},
{"arc":29,"o":1,"x":866,"y":506,"year":2018},{"arc":29,"o":2,"x":870,"y":545,"year":2018},{"arc":29,"o":3,"x":901,"y":579,"year":2018},
{"arc":30,"o":1,"x":829,"y":380,"year":2019},{"arc":30,"o":2,"x":845,"y":425,"year":2019},{"arc":30,"o":3,"x":878,"y":441,"year":2019}
],
"labels":[
{"text":"Brefort D (2018)","x":948.5,"y":256,"x1":881,"x2":1016,"y1":245,"y2":267,"fs":45},
{"text":"Tillig F (2017)","x":953.5,"y":459,"x1":897,"x2":1010,"y1":448,"y2":471,"fs":42},
{"text":"Papanikolaou A (2014)","x":903,"y":574,"x1":802,"x2":1004,"y1":562,"y2":587,"fs":47},
{"text":"Cepowski T (2020)","x":405,"y":559,"x1":314,"x2":496,"y1":547,"y2":572,"fs":49},
{"text":"Mirjalili S (2015)","x":1078.5,"y":611,"x1":1010,"x2":1147,"y1":600,"y2":622,"fs":43},
{"text":"Mirjalili S (2016)","x":1121,"y":524,"x1":1041,"x2":1201,"y1":512,"y2":537,"fs":50},
{"text":"Arora S (2019)","x":1257,"y":462,"x1":1190,"x2":1324,"y1":450,"y2":474,"fs":47},
{"text":"Faramarzi A (2020)","x":1381.5,"y":504,"x1":1293,"x2":1470,"y1":492,"y2":516,"fs":47},
{"text":"Li SM (2020)","x":1391.5,"y":551,"x1":1328,"x2":1455,"y1":538,"y2":564,"fs":51},
{"text":"Saremi S (2017)","x":1480,"y":582,"x1":1402,"x2":1558,"y1":569,"y2":595,"fs":49},
{"text":"Mirjalili S (2016)","x":1216.5,"y":580,"x1":1130,"x2":1303,"y1":566,"y2":595,"fs":54},
{"text":"Abualigah L (2021)","x":1420,"y":628,"x1":1323,"x2":1517,"y1":614,"y2":642,"fs":51},
{"text":"Heidari AA (2019)","x":1225,"y":680,"x1":1119,"x2":1331,"y1":664,"y2":697,"fs":60},
{"text":"Mirjalili S (2017)","x":1457,"y":710,"x1":1362,"x2":1552,"y1":694,"y2":726,"fs":58},
{"text":"Faramarzi A (2020)","x":1341,"y":771,"x1":1253,"x2":1429,"y1":759,"y2":783,"fs":47},
{"text":"Mirjalili S (2016)","x":1155,"y":786,"x1":1072,"x2":1238,"y1":773,"y2":799,"fs":52}
],
"legend":[
{"year":2024,"y0":783.7,"y1":792.3,"yc":788},{"year":2023,"y0":792.3,"y1":800.8,"yc":796.6},{"year":2022,"y0":800.8,"y1":809.4,"yc":805.1},{"year":2021,"y0":809.4,"y1":818,"yc":813.7},{"year":2020,"y0":818,"y1":826.5,"yc":822.2},{"year":2019,"y0":826.5,"y1":835.1,"yc":830.8},{"year":2018,"y0":835.1,"y1":843.7,"yc":839.4},{"year":2017,"y0":843.7,"y1":852.2,"yc":848},{"year":2016,"y0":852.2,"y1":860.8,"yc":856.5},{"year":2015,"y0":860.8,"y1":869.3,"yc":865},{"year":2014,"y0":869.3,"y1":877.9,"yc":873.6},{"year":2013,"y0":877.9,"y1":886.5,"yc":882.2},{"year":2012,"y0":886.5,"y1":895,"yc":890.8},{"year":2011,"y0":895,"y1":903.6,"yc":899.3},{"year":2010,"y0":903.6,"y1":912.1,"yc":907.9},{"year":2009,"y0":912.1,"y1":920.7,"yc":916.4},{"year":2008,"y0":920.7,"y1":929.3,"yc":925},{"year":2007,"y0":929.3,"y1":937.8,"yc":933.5},{"year":2006,"y0":937.8,"y1":946.4,"yc":942.1},{"year":2005,"y0":946.4,"y1":955,"yc":950.7},{"year":2004,"y0":955,"y1":963.5,"yc":959.2},{"year":2003,"y0":963.5,"y1":972.1,"yc":967.8},{"year":2002,"y0":972.1,"y1":980.7,"yc":976.4},{"year":2001,"y0":980.7,"y1":989.2,"yc":985},{"year":2000,"y0":989.2,"y1":997.8,"yc":993.5}
],
"header":[
{"text":"CiteSpace, v. 6.2.R4 (64-bit) Advanced","x":12.8,"y":17},
{"text":"September 20, 2024 at 12:24:24 AM CST","x":12.8,"y":29.4},
{"text":"WoS: D:\\bibliomatric\\naval\\output","x":12.8,"y":42},
{"text":"Timespan: 2000-2024 (Slice Length=1)","x":12.8,"y":54.7},
{"text":"Selection Criteria: g-index (k=25), LRF=3.0, L/N=10, LBY=5, e=1.0","x":12.8,"y":67.2},
{"text":"Network: N=1024, E=2358 (Density=0.0045)","x":12.8,"y":79.9},
{"text":"Largest 30 CCs: 591 (57%)","x":12.8,"y":92.6},
{"text":"Nodes Labeled: 1.0%","x":12.8,"y":105.3},
{"text":"Pruning: None","x":12.8,"y":118}
],
"logoText":[{"c":"CiteSpace","x":65,"y":1072}],
"logoBars":[
{"x1":29.4,"x2":42.9,"top":1090.7,"base":1101},{"x1":44,"x2":57.3,"top":1086,"base":1101},{"x1":58,"x2":71.7,"top":1081,"base":1101},{"x1":72,"x2":85.6,"top":1086,"base":1101},{"x1":86.6,"x2":99.9,"top":1090.7,"base":1101}
],
"book":[
{"p":1,"o":1,"x":11.3,"y":1102.6},{"p":1,"o":2,"x":64,"y":1111.5},{"p":1,"o":3,"x":117,"y":1102.6},
{"p":2,"o":1,"x":8.5,"y":1109},{"p":2,"o":2,"x":64,"y":1112},{"p":2,"o":3,"x":119.5,"y":1109}
]
},
"layer":[
{"data":{"name":"edges"},
 "transform":[{"flatten":["t"]},
  {"lookup":"s","from":{"data":{"name":"nodes"},"key":"id","fields":["x","y","year"]},"as":["xs","ys","ey"]},
  {"lookup":"t","from":{"data":{"name":"nodes"},"key":"id","fields":["x","y"]},"as":["xt","yt"]}],
 "mark":{"type":"rule","strokeWidth":2.2},
 "encoding":{
  "x":{"field":"xs","type":"quantitative","scale":{"domain":[0,1568],"nice":false,"zero":false},"axis":null},
  "x2":{"field":"xt"},
  "y":{"field":"ys","type":"quantitative","scale":{"domain":[1142,0],"nice":false,"zero":false},"axis":null},
  "y2":{"field":"yt"},
  "color":{"field":"ey","type":"quantitative","scale":{"domain":[2000,2006,2011,2015,2018,2021,2024],"range":["#ae2a92","#d24f78","#ea7058","#f6903e","#fdae2b","#fdc71f","#f5ee22"]},"legend":null}}},
{"data":{"name":"arcs"},
 "mark":{"type":"line","strokeWidth":2.2,"interpolate":"natural"},
 "encoding":{
  "x":{"field":"x","type":"quantitative","scale":{"domain":[0,1568],"nice":false,"zero":false},"axis":null},
  "y":{"field":"y","type":"quantitative","scale":{"domain":[1142,0],"nice":false,"zero":false},"axis":null},
  "detail":{"field":"arc"},"order":{"field":"o"},
  "color":{"field":"year","type":"quantitative","scale":{"domain":[2000,2006,2011,2015,2018,2021,2024],"range":["#ae2a92","#d24f78","#ea7058","#f6903e","#fdae2b","#fdc71f","#f5ee22"]},"legend":null}}},
{"data":{"name":"nodes"},
 "mark":{"type":"point","shape":"circle","filled":true,"opacity":1},
 "encoding":{
  "x":{"field":"x","type":"quantitative","scale":{"domain":[0,1568],"nice":false,"zero":false},"axis":null},
  "y":{"field":"y","type":"quantitative","scale":{"domain":[1142,0],"nice":false,"zero":false},"axis":null},
  "size":{"field":"r","type":"quantitative","scale":{"type":"pow","exponent":2,"domain":[0,100],"range":[0,222218]},"legend":null},
  "color":{"field":"year","type":"quantitative","scale":{"domain":[2000,2006,2011,2015,2018,2021,2024],"range":["#ae2a92","#d24f78","#ea7058","#f6903e","#fdae2b","#fdc71f","#f5ee22"]},"legend":null}}},
{"data":{"name":"nodes"},
 "transform":[{"filter":"isValid(datum.cr)"}],
 "mark":{"type":"point","shape":"circle","filled":true,"opacity":1},
 "encoding":{
  "x":{"field":"x","type":"quantitative","scale":{"domain":[0,1568],"nice":false,"zero":false},"axis":null},
  "y":{"field":"y","type":"quantitative","scale":{"domain":[1142,0],"nice":false,"zero":false},"axis":null},
  "size":{"field":"cr","type":"quantitative","scale":{"type":"pow","exponent":2,"domain":[0,100],"range":[0,222218]},"legend":null},
  "color":{"field":"cy","type":"quantitative","scale":{"domain":[2000,2006,2011,2015,2018,2021,2024],"range":["#ae2a92","#d24f78","#ea7058","#f6903e","#fdae2b","#fdc71f","#f5ee22"]},"legend":null}}},
{"data":{"name":"legend"},
 "mark":{"type":"rect"},
 "encoding":{
  "x":{"datum":33.2,"type":"quantitative","scale":{"domain":[0,1568],"nice":false,"zero":false},"axis":null},"x2":{"datum":93},
  "y":{"field":"y0","type":"quantitative","scale":{"domain":[1142,0],"nice":false,"zero":false},"axis":null},"y2":{"field":"y1"},
  "color":{"field":"year","type":"quantitative","scale":{"domain":[2000,2006,2011,2015,2018,2021,2024],"range":["#ae2a92","#d24f78","#ea7058","#f6903e","#fdae2b","#fdc71f","#f5ee22"]},"legend":null}}},
{"data":{"name":"legend"},
 "mark":{"type":"text","font":"Liberation Sans","fontWeight":"bold","fontSize":11,"color":"#111","align":"center","baseline":"middle"},
 "encoding":{
  "x":{"datum":63,"type":"quantitative","scale":{"domain":[0,1568],"nice":false,"zero":false},"axis":null},
  "y":{"field":"yc","type":"quantitative","scale":{"domain":[1142,0],"nice":false,"zero":false},"axis":null},
  "text":{"field":"year","type":"nominal"}}},
{"data":{"name":"logoText"},
 "mark":{"type":"text","font":"Open Sans","fontWeight":"bold","fontSize":45,"color":"#ababab","align":"center","baseline":"middle","angle":2},
 "encoding":{
  "x":{"field":"x","type":"quantitative","scale":{"domain":[0,1568],"nice":false,"zero":false},"axis":null},
  "y":{"field":"y","type":"quantitative","scale":{"domain":[1142,0],"nice":false,"zero":false},"axis":null},
  "text":{"field":"c","type":"nominal"}}},
{"data":{"name":"logoBars"},
 "mark":{"type":"rect","color":{"gradient":"linear","x1":0,"y1":0,"x2":0,"y2":1,"stops":[{"offset":0,"color":"#8f8f8f"},{"offset":1,"color":"#ececec"}]}},
 "encoding":{
  "x":{"field":"x1","type":"quantitative","scale":{"domain":[0,1568],"nice":false,"zero":false},"axis":null},"x2":{"field":"x2"},
  "y":{"field":"top","type":"quantitative","scale":{"domain":[1142,0],"nice":false,"zero":false},"axis":null},"y2":{"field":"base"}}},
{"data":{"name":"book"},
 "mark":{"type":"line","color":"#9a9a9a","strokeWidth":3.5},
 "encoding":{
  "x":{"field":"x","type":"quantitative","scale":{"domain":[0,1568],"nice":false,"zero":false},"axis":null},
  "y":{"field":"y","type":"quantitative","scale":{"domain":[1142,0],"nice":false,"zero":false},"axis":null},
  "detail":{"field":"p"},"order":{"field":"o"}}},
{"data":{"name":"labels"},
 "mark":{"type":"rect","color":"white","opacity":0.38},
 "encoding":{
  "x":{"field":"x1","type":"quantitative","scale":{"domain":[0,1568],"nice":false,"zero":false},"axis":null},"x2":{"field":"x2"},
  "y":{"field":"y1","type":"quantitative","scale":{"domain":[1142,0],"nice":false,"zero":false},"axis":null},"y2":{"field":"y2"}}},
{"data":{"name":"labels"},
 "mark":{"type":"text","font":"Liberation Sans","fontWeight":"bold","color":"#000","align":"center","baseline":"middle"},
 "encoding":{
  "x":{"field":"x","type":"quantitative","scale":{"domain":[0,1568],"nice":false,"zero":false},"axis":null},
  "y":{"field":"y","type":"quantitative","scale":{"domain":[1142,0],"nice":false,"zero":false},"axis":null},
  "size":{"field":"fs","type":"quantitative","scale":{"domain":[40,60],"range":[40,60]},"legend":null},
  "text":{"field":"text","type":"nominal"}}},
{"data":{"name":"header"},
 "mark":{"type":"text","font":"Liberation Sans","fontSize":30.4,"color":"#111","stroke":"#111","strokeWidth":0.7,"align":"left","baseline":"middle"},
 "encoding":{
  "x":{"field":"x","type":"quantitative","scale":{"domain":[0,1568],"nice":false,"zero":false},"axis":null},
  "y":{"field":"y","type":"quantitative","scale":{"domain":[1142,0],"nice":false,"zero":false},"axis":null},
  "text":{"field":"text","type":"nominal"}}}
]
}
